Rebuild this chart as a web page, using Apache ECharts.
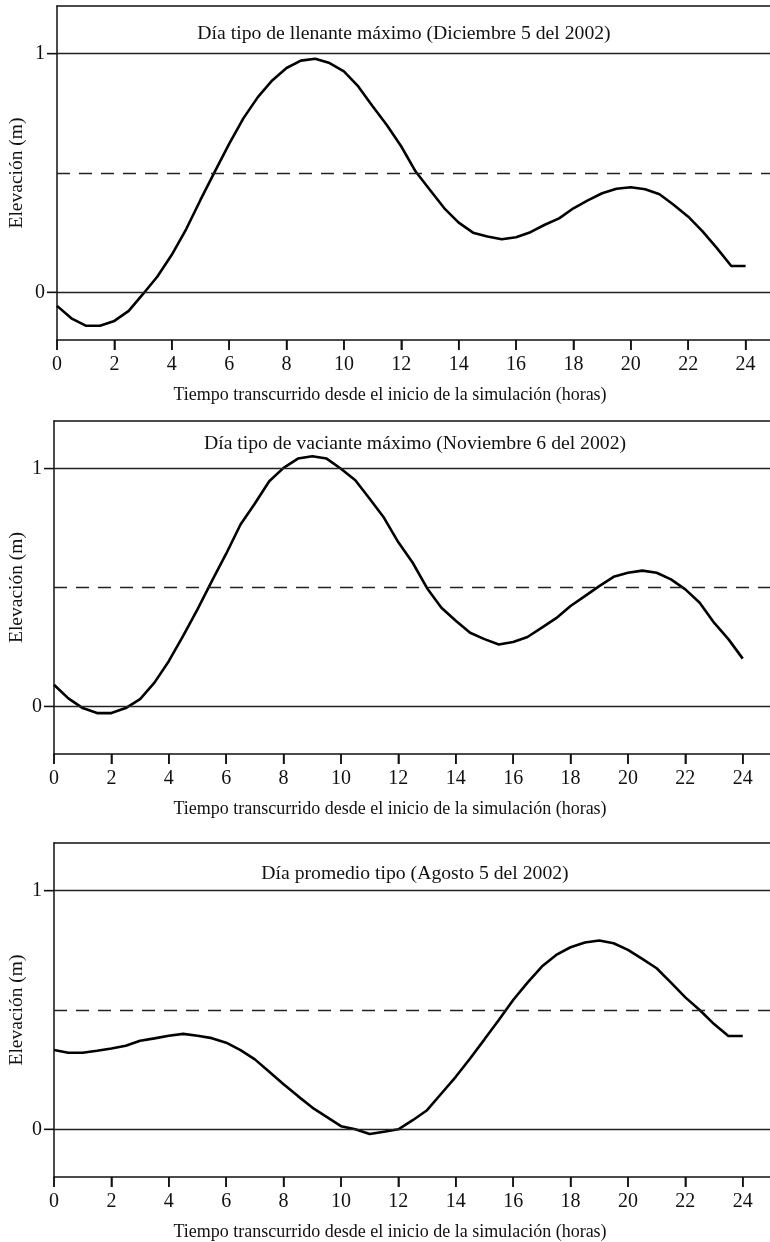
<!DOCTYPE html>
<html>
<head>
<meta charset="utf-8">
<script src="https://cdn.jsdelivr.net/npm/echarts@6/dist/echarts.min.js"></script>
<style>
  html, body { margin: 0; padding: 0; background: #fff; }
  #chart { width: 770px; height: 1242px; }
</style>
</head>
<body>
<div id="chart"></div>
<script>
// horas de simulación (cada media hora)
var hours = [0, 0.5, 1, 1.5, 2, 2.5, 3, 3.5, 4, 4.5, 5, 5.5, 6, 6.5, 7, 7.5, 8, 8.5, 9, 9.5,
  10, 10.5, 11, 11.5, 12, 12.5, 13, 13.5, 14, 14.5, 15, 15.5, 16, 16.5, 17, 17.5, 18, 18.5, 19, 19.5,
  20, 20.5, 21, 21.5, 22, 22.5, 23, 23.5, 24]

var llenante = [-0.057, -0.109, -0.14, -0.14, -0.12, -0.078, -0.007, 0.066, 0.157, 0.264,
  0.387, 0.506, 0.622, 0.73, 0.818, 0.888, 0.94, 0.971, 0.979, 0.961,
  0.926, 0.863, 0.78, 0.70, 0.611, 0.506, 0.429, 0.352, 0.292, 0.25,
  0.234, 0.222, 0.231, 0.252, 0.283, 0.31, 0.352, 0.385, 0.415, 0.434,
  0.44, 0.432, 0.411, 0.366, 0.317, 0.255, 0.185, 0.11, 0.11]
var vaciante = [0.091, 0.034, -0.007, -0.028, -0.028, -0.007, 0.031, 0.10, 0.19, 0.297,
  0.408, 0.527, 0.642, 0.765, 0.853, 0.947, 1.003, 1.042, 1.052, 1.042,
  0.999, 0.951, 0.873, 0.793, 0.69, 0.604, 0.497, 0.415, 0.36, 0.31,
  0.283, 0.26, 0.271, 0.292, 0.331, 0.371, 0.422, 0.464, 0.506, 0.545,
  0.562, 0.571, 0.562, 0.534, 0.492, 0.436, 0.352, 0.283, 0.201]
var promedio = [0.332, 0.321, 0.321, 0.329, 0.339, 0.35, 0.371, 0.381, 0.392, 0.40,
  0.392, 0.382, 0.363, 0.332, 0.293, 0.241, 0.189, 0.139, 0.091, 0.052,
  0.013, 0.0, -0.02, -0.01, 0.0, 0.038, 0.08, 0.15, 0.22, 0.297,
  0.377, 0.458, 0.542, 0.615, 0.682, 0.731, 0.763, 0.783, 0.791, 0.78,
  0.752, 0.714, 0.675, 0.615, 0.553, 0.50, 0.441, 0.391, 0.391]

var xTicks = [0, 2, 4, 6, 8, 10, 12, 14, 16, 18, 20, 22, 24]
var yTicks = [0, 1]
var refSolid = [0, 1]
var refDashed = [0.5]

var titles = [
  'Día tipo de llenante máximo (Diciembre 5 del 2002)',
  'Día tipo de vaciante máximo (Noviembre 6 del 2002)',
  'Día promedio tipo (Agosto 5 del 2002)'
]
var xName = 'Tiempo transcurrido desde el inicio de la simulación (horas)'
var yName = 'Elevación (m)'

var font = "'Liberation Serif', 'DejaVu Serif', serif"
var ink = '#111'

// panel placement in pixels; the frame runs off the right edge of the page
var panels = [
  { data: llenante, left: 57, top: 6, height: 334, xMax: 24.85, titleX: 404, titleY: 34 },
  { data: vaciante, left: 54, top: 421, height: 333, xMax: 24.95, titleX: 415, titleY: 444 },
  { data: promedio, left: 54, top: 843, height: 334, xMax: 24.95, titleX: 415, titleY: 874 }
]

var option = {
  backgroundColor: '#fff',
  animation: false,
  title: [],
  graphic: [],
  grid: [],
  xAxis: [],
  yAxis: [],
  series: []
}

panels.forEach(function (p, i) {
  option.title.push({
    text: titles[i],
    left: p.titleX,
    top: p.titleY - 11,
    textAlign: 'center',
    padding: 0,
    textStyle: { fontFamily: font, fontSize: 19.7, fontWeight: 'normal', color: ink, lineHeight: 22 }
  })
  // x axis title, a bit left of the frame centre as in the original
  option.title.push({
    text: xName,
    left: 390,
    top: p.top + p.height + 55 - 10,
    textAlign: 'center',
    padding: 0,
    textStyle: { fontFamily: font, fontSize: 18, fontWeight: 'normal', color: ink, lineHeight: 20 }
  })
  // y axis title, rotated
  option.graphic.push({
    type: 'text',
    x: 17,
    y: p.top + p.height / 2,
    rotation: Math.PI / 2,
    style: {
      text: yName,
      fontFamily: font,
      fontSize: 19.5,
      fill: ink,
      align: 'center',
      verticalAlign: 'middle'
    }
  })
  option.grid.push({
    left: p.left,
    top: p.top,
    height: p.height,
    right: 0,
    containLabel: false,
    outerBoundsMode: 'none'
  })
  // bottom axis sits on the zero of a hidden helper y axis (= frame bottom)
  option.xAxis.push({
    type: 'value',
    gridIndex: i,
    min: 0,
    max: p.xMax,
    axisLine: { show: true, onZero: true, onZeroAxisIndex: i * 2 + 1, lineStyle: { color: ink, width: 1.5 } },
    axisTick: { show: true, customValues: xTicks, length: 10, inside: false, lineStyle: { color: ink, width: 1.5 } },
    axisLabel: { customValues: xTicks, margin: 15, fontFamily: font, fontSize: 20, color: ink },
    splitLine: { show: false }
  })
  // top border of the frame
  option.xAxis.push({
    type: 'value',
    gridIndex: i,
    position: 'top',
    min: 0,
    max: p.xMax,
    axisLine: { show: true, onZero: false, lineStyle: { color: ink, width: 1.5 } },
    axisTick: { show: false },
    axisLabel: { show: false },
    splitLine: { show: false }
  })
  option.yAxis.push({
    type: 'value',
    gridIndex: i,
    min: -0.2,
    max: 1.2,
    axisLine: { show: true, lineStyle: { color: ink, width: 1.5 } },
    axisTick: { show: true, customValues: yTicks, length: 10, lineStyle: { color: ink, width: 1.3 } },
    axisLabel: { customValues: yTicks, margin: 12, fontFamily: font, fontSize: 20, color: ink },
    splitLine: { show: false }
  })
  option.yAxis.push({
    type: 'value',
    gridIndex: i,
    show: false,
    min: 0,
    max: 1.4
  })
  var marks = refSolid.map(function (v) {
    return { yAxis: v, lineStyle: { type: 'solid', width: 1.3, color: '#222' } }
  }).concat(refDashed.map(function (v) {
    return { yAxis: v, lineStyle: { type: [13, 9], width: 1.3, color: '#222' } }
  }))
  option.series.push({
    type: 'line',
    xAxisIndex: i * 2,
    yAxisIndex: i * 2,
    data: hours.map(function (h, k) { return [h, p.data[k]] }),
    showSymbol: false,
    smooth: false,
    lineStyle: { color: '#000', width: 2.6 },
    markLine: {
      silent: true,
      symbol: ['none', 'none'],
      label: { show: false },
      data: marks
    }
  })
  // outward tick marks under the frame bottom
  option.series.push({
    type: 'scatter',
    xAxisIndex: i * 2,
    yAxisIndex: i * 2 + 1,
    silent: true,
    clip: false,
    symbol: 'rect',
    symbolSize: [1.5, 10],
    symbolOffset: [0, 5],
    itemStyle: { color: ink, opacity: 1 },
    data: xTicks.map(function (t) { return [t, 0] })
  })
  // outward tick marks left of the y axis
  option.series.push({
    type: 'scatter',
    xAxisIndex: i * 2,
    yAxisIndex: i * 2,
    silent: true,
    clip: false,
    symbol: 'rect',
    symbolSize: [10, 1.3],
    symbolOffset: [-5, 0],
    itemStyle: { color: ink, opacity: 1 },
    data: yTicks.map(function (v) { return [0, v] })
  })
})

echarts.init(document.getElementById('chart')).setOption(option)
</script>
</body>
</html>
